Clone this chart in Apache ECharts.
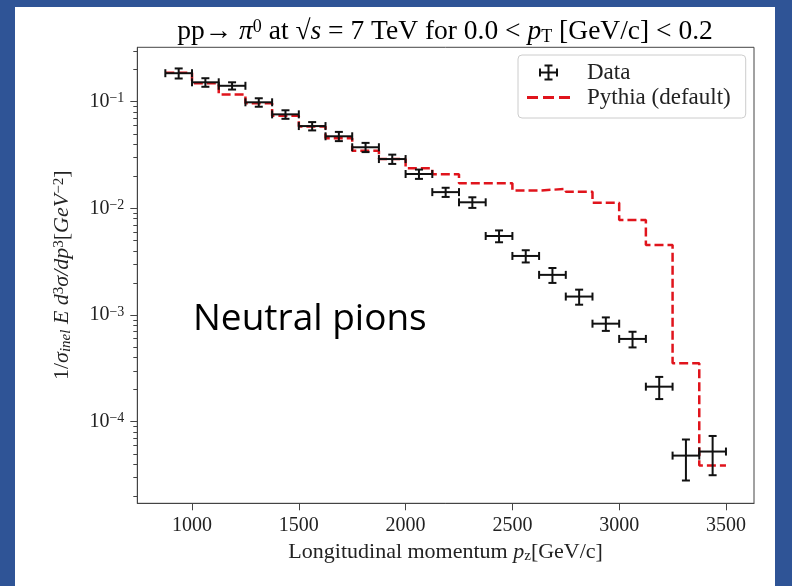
<!DOCTYPE html>
<html><head><meta charset="utf-8">
<script src="https://cdn.jsdelivr.net/npm/echarts@6/dist/echarts.min.js"></script>
<style>
html,body{margin:0;padding:0;width:792px;height:586px;background:#2f5496;overflow:hidden}
#panel{position:absolute;left:15px;top:7px;width:760px;height:579px;background:#fff}
#chart{position:absolute;left:0;top:0;width:760px;height:579px}
</style></head><body>
<div id="panel"><div id="chart"></div></div>
<script>
// bin edges of longitudinal momentum p_z [GeV/c]
const binEdges = [875,1000,1125,1250,1375,1500,1625,1750,1875,2000,2125,2250,2375,2500,2625,2750,2875,3000,3125,3250,3375,3500];
const binCenters = [937.5,1062.5,1187.5,1312.5,1437.5,1562.5,1687.5,1812.5,1937.5,2062.5,2187.5,2312.5,2437.5,2562.5,2687.5,2812.5,2937.5,3062.5,3187.5,3312.5,3437.5];
// measured data
const dataValues = [0.185,0.152,0.141,0.0987,0.0761,0.0591,0.0474,0.0374,0.0290,0.0210,0.0142,0.0114,0.00551,0.00358,0.00238,0.00149,0.00083,0.000597,0.000213,0.0000481,0.0000525];
const dataErrors = [0.020,0.014,0.011,0.009,0.007,0.0053,0.0047,0.0037,0.0029,0.0021,0.0014,0.0013,0.0007,0.00047,0.00038,0.00024,0.00012,0.0001,0.00005,0.000020,0.000021];
// Pythia (default) histogram, one value per bin
const pythiaValues = [0.187,0.149,0.117,0.0966,0.074,0.0584,0.0454,0.0347,0.029,0.0238,0.0209,0.0172,0.0172,0.0147,0.0152,0.01435,0.0113,0.00778,0.00454,0.000353,0.0000388];
// ticks
const xTickValues = [1000,1500,2000,2500,3000,3500];
const yMajorTicks = [1e-4,1e-3,1e-2,1e-1];
const yMajorLabels = ['\u22124','\u22123','\u22122','\u22121'];
const yMinorTicks = [2e-5,3e-5,4e-5,5e-5,6e-5,7e-5,8e-5,9e-5,2e-4,3e-4,4e-4,5e-4,6e-4,7e-4,8e-4,9e-4,2e-3,3e-3,4e-3,5e-3,6e-3,7e-3,8e-3,9e-3,2e-2,3e-2,4e-2,5e-2,6e-2,7e-2,8e-2,9e-2,2e-1,3e-1];

const serif = '"Liberation Serif", "DejaVu Serif", serif';
const ink = '#222';
const red = '#e0141c';

const errData = binCenters.map((c, i) => [c, dataValues[i], dataErrors[i], binEdges[i], binEdges[i + 1]]);
const stepData = binEdges.map((e, i) => [e, pythiaValues[Math.min(i, pythiaValues.length - 1)]]);

function renderErr(params, api) {
  const x = api.value(0), y = api.value(1), e = api.value(2), x0 = api.value(3), x1 = api.value(4);
  const pL = api.coord([x0, y]), pR = api.coord([x1, y]);
  const pT = api.coord([x, y + e]), pB = api.coord([x, y - e]);
  const c = 4;
  const st = {stroke: '#111', lineWidth: 2};
  const ln = (a, b, d, f) => ({type: 'line', shape: {x1: a, y1: b, x2: d, y2: f}, style: st});
  return {type: 'group', children: [
    ln(pL[0], pL[1], pR[0], pR[1]),
    ln(pT[0], pT[1], pB[0], pB[1]),
    ln(pL[0], pL[1] - c, pL[0], pL[1] + c),
    ln(pR[0], pR[1] - c, pR[0], pR[1] + c),
    ln(pT[0] - c, pT[1], pT[0] + c, pT[1]),
    ln(pB[0] - c, pB[1], pB[0] + c, pB[1])
  ]};
}

const chart = echarts.init(document.getElementById('chart'), null, {renderer: 'canvas'});
const richMath = {
  r: {fontFamily: serif, fontSize: 27.5, color: ink},
  i: {fontFamily: serif, fontSize: 27.5, fontStyle: 'italic', color: ink},
  sup: {fontFamily: serif, fontSize: 18, color: ink, verticalAlign: 'top'},
  sub: {fontFamily: serif, fontSize: 18, color: ink, verticalAlign: 'bottom'}
};
const yRich = {
  r: {fontFamily: serif, fontSize: 22, color: ink},
  i: {fontFamily: serif, fontSize: 22, fontStyle: 'italic', color: ink},
  sup: {fontFamily: serif, fontSize: 15, color: ink, verticalAlign: 'top'},
  subi: {fontFamily: serif, fontSize: 15, fontStyle: 'italic', color: ink, verticalAlign: 'bottom'}
};
const legendIconData = 'path://M0,0M43,16M12,7h19v2h-19zM20.5,0h2v16h-2zM17.5,0h8v2h-8zM17.5,14h8v2h-8zM12,4h2v8h-2zM29,4h2v8h-2z';
const legendIconPythia = 'path://M0,0M43,16M0,6.5h11v3h-11zM16,6.5h11v3h-11zM32,6.5h11v3h-11z';

chart.setOption({
  animation: false,
  backgroundColor: 'transparent',
  grid: {left: 122.3, top: 40.3, width: 616.7, height: 456, show: true, borderColor: '#444', borderWidth: 1, backgroundColor: 'transparent'},
  xAxis: {
    type: 'value', min: 743.75, max: 3631.25,
    axisLine: {show: true, onZero: false, lineStyle: {color: '#444', width: 1}},
    axisTick: {show: true, customValues: xTickValues, length: 7, lineStyle: {color: '#444', width: 1}},
    axisLabel: {customValues: xTickValues, margin: 12, fontFamily: serif, fontSize: 20, color: ink,
      formatter: v => String(v)},
    splitLine: {show: false},
    name: '{r|Longitudinal momentum }{i|p}{sub|z}{r|[GeV/c]}',
    nameLocation: 'middle', nameGap: 38,
    nameTextStyle: {rich: {
      r: {fontFamily: serif, fontSize: 22, color: ink},
      i: {fontFamily: serif, fontSize: 22, fontStyle: 'italic', color: ink},
      sub: {fontFamily: serif, fontSize: 15, color: ink, verticalAlign: 'bottom'}
    }}
  },
  yAxis: [{
    type: 'log', logBase: 10, min: 1.718e-5, max: 0.3236,
    axisLine: {show: true, lineStyle: {color: '#444', width: 1}},
    axisTick: {show: true, customValues: yMajorTicks, length: 7, lineStyle: {color: '#444', width: 1}},
    axisLabel: {
      customValues: yMajorTicks, margin: 13,
      formatter: function (v) {
        const k = yMajorTicks.findIndex(t => Math.abs(Math.log10(t) - Math.log10(v)) < 1e-6);
        return k < 0 ? '' : '{b|10}{s|' + yMajorLabels[k] + '}';
      },
      rich: {
        b: {fontFamily: serif, fontSize: 20, color: ink},
        s: {fontFamily: serif, fontSize: 14, color: ink, verticalAlign: 'top'}
      }
    },
    splitLine: {show: false},
    name: '{r|1/}{i|\u03c3}{subi|inel}{i| E d}{sup|3}{i|\u03c3/dp}{sup|3}{r|[}{i|GeV}{sup|\u22122}{r|]}',
    nameLocation: 'middle', nameRotate: 90, nameGap: 64,
    nameTextStyle: {rich: yRich}
  }, {
    type: 'log', logBase: 10, min: 1.718e-5, max: 0.3236, position: 'left',
    axisLine: {show: false},
    axisTick: {show: true, customValues: yMinorTicks, length: 4, lineStyle: {color: '#444', width: 1}},
    axisLabel: {show: false},
    splitLine: {show: false}
  }],
  legend: {
    orient: 'vertical', left: 503, top: 48,
    padding: [6, 15, 9, 9], itemGap: 2, itemWidth: 43, itemHeight: 16,
    borderColor: '#ccc', borderWidth: 1, borderRadius: 4, backgroundColor: 'rgba(255,255,255,0.8)',
    textStyle: {fontFamily: serif, fontSize: 23, color: ink, padding: [0, 0, 0, 12]},
    data: [
      {name: 'Data', icon: legendIconData, itemStyle: {color: '#111'}},
      {name: 'Pythia (default)', icon: legendIconPythia, itemStyle: {color: red}}
    ]
  },
  graphic: [
    {type: 'text', x: 430, y: 25, style: {
      text: '{r|pp\u2192 }{i|\u03c0}{sup|0}{r| at \u221a}{i|s}{r| = 7 TeV for 0.0 < }{i|p}{sub|T}{r| [GeV/c] < 0.2}',
      rich: richMath, align: 'center', verticalAlign: 'middle'
    }},
    {type: 'text', x: 178, y: 312, style: {
      text: 'Neutral pions', fontFamily: '"Open Sans", Lato, sans-serif', fontSize: 37, fill: '#000',
      align: 'left', verticalAlign: 'middle'
    }}
  ],
  series: [{
    name: 'Pythia (default)', type: 'line', step: 'end', data: stepData,
    symbol: 'none', yAxisIndex: 0, z: 3,
    lineStyle: {color: red, width: 2.5, type: [9, 4]},
    itemStyle: {color: red}
  }, {
    name: 'Data', type: 'custom', renderItem: renderErr, data: errData, yAxisIndex: 0, z: 4,
    encode: {x: 0, y: 1},
    itemStyle: {color: '#111'}
  }]
});
</script>
</body></html>
